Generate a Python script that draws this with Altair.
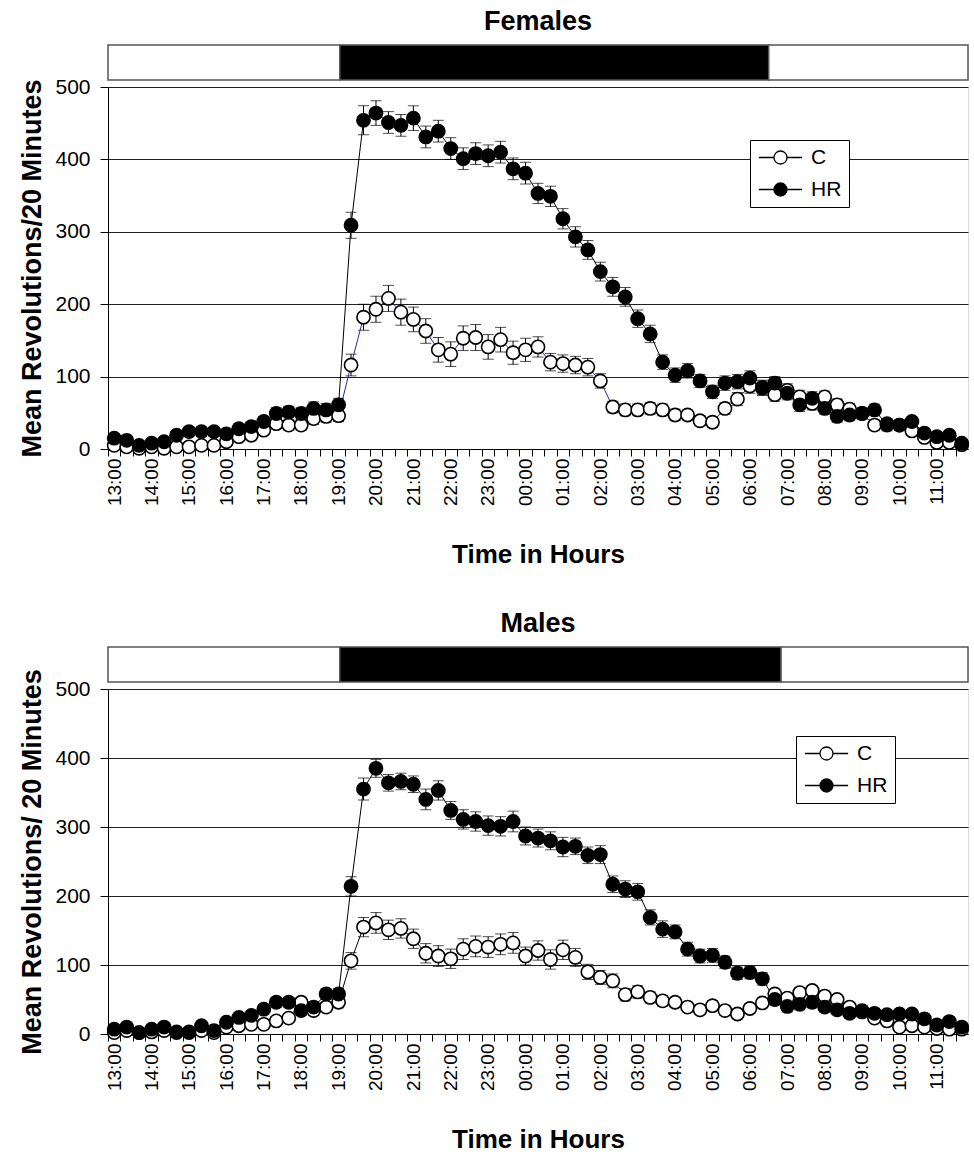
import json
import altair as alt
import pandas as pd

FONT = "Liberation Sans"

# Hour labels shown under the x axis (one every three 20-minute bins)
hour_labels = ["13:00", "14:00", "15:00", "16:00", "17:00", "18:00", "19:00",
               "20:00", "21:00", "22:00", "23:00", "00:00", "01:00", "02:00",
               "03:00", "04:00", "05:00", "06:00", "07:00", "08:00", "09:00",
               "10:00", "11:00"]
N_BINS = 69  # 20-minute bins from 13:00 to 11:40

# ---------------- Females ----------------
female_C = [5, 3, 1, 3, 1, 3, 3, 5, 5, 10, 17, 19, 26, 35, 33, 33, 42, 45, 46,
            116, 182, 193, 208, 189, 179, 163, 137, 131, 153, 154, 141, 151,
            133, 137, 141, 120, 118, 116, 113, 94, 58, 54, 54, 56, 54, 47, 47,
            39, 37, 56, 69, 87, 85, 75, 81, 72, 63, 72, 61, 55, 49, 33, 35, 33,
            25, 16, 9, 9, 6]
female_HR = [15, 12, 5, 8, 10, 19, 24, 24, 24, 21, 28, 31, 38, 49, 51, 49, 56, 54, 61,
             309, 454, 464, 451, 447, 457, 431, 439, 415, 401, 408, 405, 410,
             387, 381, 353, 349, 318, 293, 275, 245, 224, 210, 180, 159, 120, 102, 108,
             94, 79, 91, 93, 98, 84, 91, 77, 61, 70, 56, 45, 47, 49, 54, 33, 33,
             38, 22, 17, 19, 8]
female_C_err = [4, 4, 3, 3, 3, 4, 4, 4, 5, 5, 5, 6, 6, 7, 7, 7, 8, 8, 8,
                15, 18, 18, 18, 18, 17, 17, 17, 17, 17, 18, 17, 17,
                16, 16, 14, 12, 12, 12, 12, 10, 8, 8, 8, 8, 8, 8, 7,
                7, 7, 8, 9, 10, 10, 9, 9, 9, 9, 8, 8, 8, 7, 7, 7, 6, 6, 5, 5, 5, 5]
female_HR_err = [5, 5, 4, 4, 5, 6, 6, 6, 6, 6, 7, 7, 7, 8, 8, 8, 9, 9, 9,
                 18, 20, 17, 15, 15, 17, 15, 15, 15, 15, 15, 15, 15,
                 15, 15, 14, 14, 14, 14, 13, 13, 13, 13, 12, 12, 10, 10, 10,
                 9, 9, 10, 10, 10, 10, 9, 9, 9, 9, 8, 8, 8, 8, 8, 8, 7, 6, 6, 6, 5, 5]
# light / dark bar, hours after 13:00
female_light_dark = [0.0, 6.2, 17.67, 23.0]

# ---------------- Males ----------------
male_C = [2, 5, 2, 3, 5, 2, 2, 5, 2, 10, 12, 14, 14, 19, 23, 46, 34, 39, 46,
          106, 155, 161, 151, 153, 138, 117, 113, 109, 123, 127, 126, 130,
          132, 113, 121, 108, 122, 111, 90, 82, 77, 57, 61, 53, 48, 46, 39,
          35, 41, 34, 29, 37, 45, 58, 52, 60, 63, 55, 50, 39, 32, 23, 19, 10,
          12, 10, 8, 7, 7]
male_HR = [7, 10, 2, 7, 10, 3, 3, 12, 5, 17, 24, 27, 36, 46, 46, 34, 39, 58, 58,
           214, 355, 385, 364, 366, 362, 340, 353, 324, 311, 308, 302, 301,
           308, 287, 284, 280, 271, 272, 259, 260, 217, 210, 206, 169, 152, 148, 123,
           113, 114, 104, 88, 89, 80, 50, 40, 43, 46, 39, 35, 30, 34, 30, 28, 29,
           29, 22, 13, 18, 10]
male_C_err = [4, 4, 3, 3, 4, 3, 3, 4, 4, 5, 5, 5, 6, 6, 6, 7, 7, 7, 8,
              12, 14, 15, 14, 14, 14, 14, 15, 14, 15, 15, 15, 15,
              15, 13, 14, 14, 14, 13, 11, 10, 10, 9, 9, 8, 8, 7, 7,
              7, 7, 7, 7, 7, 7, 7, 7, 7, 7, 7, 6, 6, 6, 6, 5, 5, 5, 5, 5, 5, 5]
male_HR_err = [5, 5, 4, 4, 5, 4, 4, 5, 5, 6, 6, 6, 7, 7, 7, 7, 8, 8, 8,
               14, 16, 13, 12, 12, 12, 15, 14, 13, 14, 14, 14, 14,
               15, 13, 13, 13, 14, 12, 12, 13, 12, 12, 12, 11, 12, 10, 10,
               10, 10, 9, 9, 9, 9, 8, 8, 8, 8, 7, 7, 7, 7, 7, 6, 6, 6, 5, 5, 5, 5]
male_light_dark = [0.0, 6.2, 18.0, 23.0]

for arr in (female_C, female_HR, female_C_err, female_HR_err,
            male_C, male_HR, male_C_err, male_HR_err):
    assert len(arr) == N_BINS, len(arr)

series_names = ["C", "HR"]

label_expr = ("datum.value % 3 == 0 && datum.value <= 66 ? "
              + json.dumps(hour_labels) + "[datum.value / 3] : ''")

LEGEND_PATH = ("M-2.5,0L-0.75,0M0.75,0L2.5,0"
               "M0.75,0A0.75,0.75,0,1,1,-0.75,0A0.75,0.75,0,1,1,0.75,0Z")

W = 860


def panel(title, c, hr, c_err, hr_err, light_dark, height, c_line, ytitle, lx, ly):
    rows = []
    for name, vals, errs in (("C", c, c_err), ("HR", hr, hr_err)):
        for i in range(N_BINS):
            rows.append({"bin": i, "series": name, "value": vals[i], "err": errs[i]})
    df = pd.DataFrame(rows)

    ld = pd.DataFrame({
        "start_h": light_dark[:-1],
        "end_h": light_dark[1:],
        "phase": ["light", "dark", "light"],
    })

    xscale = alt.Scale(domain=[0, N_BINS], nice=False, zero=False)
    xaxis = alt.Axis(values=list(range(N_BINS)), labelExpr=label_expr,
                     labelAngle=270, labelOffset=6, labelOverlap=False,
                     labelFontSize=19, labelColor="black", labelPadding=2,
                     tickSize=7, tickColor="black", domainColor="black",
                     grid=False, title="Time in Hours", titleFontSize=26,
                     titleFontWeight="bold", titlePadding=36, titleColor="black")
    yscale = alt.Scale(domain=[0, 500], nice=False)
    yaxis = alt.Axis(values=[0, 100, 200, 300, 400, 500], grid=True,
                     gridColor="#222222", gridWidth=1.2, tickSize=8,
                     tickColor="black", domainColor="black", labelFontSize=21,
                     labelColor="black", labelPadding=10, title=ytitle,
                     titleFontSize=27, titleFontWeight="bold", titlePadding=8,
                     titleColor="black")

    base = alt.Chart(df).transform_calculate(
        pos="datum.bin + 0.5",
        lo="datum.value - datum.err",
        hi="datum.value + datum.err",
    )
    X = alt.X("pos:Q", scale=xscale, axis=xaxis)
    YV = alt.Y("value:Q", scale=yscale, axis=yaxis)

    bar = alt.Chart(ld).transform_calculate(
        s="datum.start_h * 3", e="datum.end_h * 3"
    ).mark_rect(stroke="#555555", strokeWidth=1.5).encode(
        x=alt.X("s:Q", scale=xscale, axis=xaxis),
        x2="e:Q",
        y=alt.value(-42),
        y2=alt.value(-7),
        fill=alt.condition("datum.phase == 'dark'", alt.value("black"),
                           alt.value("white")),
    )

    err = base.mark_rule(color="black", strokeWidth=1).encode(
        x=X, y=alt.Y("lo:Q", scale=yscale, axis=yaxis), y2="hi:Q")
    cap_lo = base.mark_tick(orient="horizontal", size=11, thickness=1,
                            color="black").encode(
        x=X, y=alt.Y("lo:Q", scale=yscale, axis=yaxis))
    cap_hi = base.mark_tick(orient="horizontal", size=11, thickness=1,
                            color="black").encode(
        x=X, y=alt.Y("hi:Q", scale=yscale, axis=yaxis))

    line_c = base.transform_filter("datum.series == 'C'").mark_line(
        strokeWidth=1, color=c_line).encode(x=X, y=YV)
    line_hr = base.transform_filter("datum.series == 'HR'").mark_line(
        strokeWidth=1, color="black").encode(x=X, y=YV)

    points = base.mark_point(shape="circle", size=175, strokeWidth=1.6,
                             stroke="black", opacity=1, filled=True).encode(
        x=X, y=YV,
        fill=alt.Fill("series:N",
                      scale=alt.Scale(domain=series_names, range=["white", "black"]),
                      legend=alt.Legend(
                          orient="none", legendX=lx, legendY=ly, title=None,
                          symbolType=LEGEND_PATH, symbolSize=300,
                          symbolStrokeColor="black", symbolStrokeWidth=1.3,
                          symbolOffset=13, labelOffset=20, labelFontSize=21,
                          labelFont=FONT, labelColor="black", rowPadding=10,
                          padding=7, strokeColor="black", fillColor="white")),
    )

    return alt.layer(bar, err, cap_lo, cap_hi, line_c, line_hr, points).properties(
        width=W, height=height,
        title=alt.TitleParams(title, fontSize=27, fontWeight="bold", font=FONT,
                              anchor="middle", frame="group", offset=8,
                              color="black"),
    )


females = panel("Females", female_C, female_HR, female_C_err, female_HR_err,
                female_light_dark, 362, "#2a2a9a",
                "Mean Revolutions/20 Minutes", 642, 53)
males = panel("Males", male_C, male_HR, male_C_err, male_HR_err,
              male_light_dark, 345, "black",
              "Mean Revolutions/ 20 Minutes", 688, 47)

chart = alt.vconcat(females, males, spacing=40).resolve_scale(
    x="independent", y="independent", fill="independent"
).resolve_legend(fill="independent").configure_view(
    stroke="#888888", strokeWidth=1
).configure_axis(
    labelFont=FONT, titleFont=FONT
).configure(background="white").properties(
    padding={"left": 18, "top": 7, "right": 0, "bottom": 0}
)

chart.save("out.html", embed_options={"renderer": "svg", "actions": False})
